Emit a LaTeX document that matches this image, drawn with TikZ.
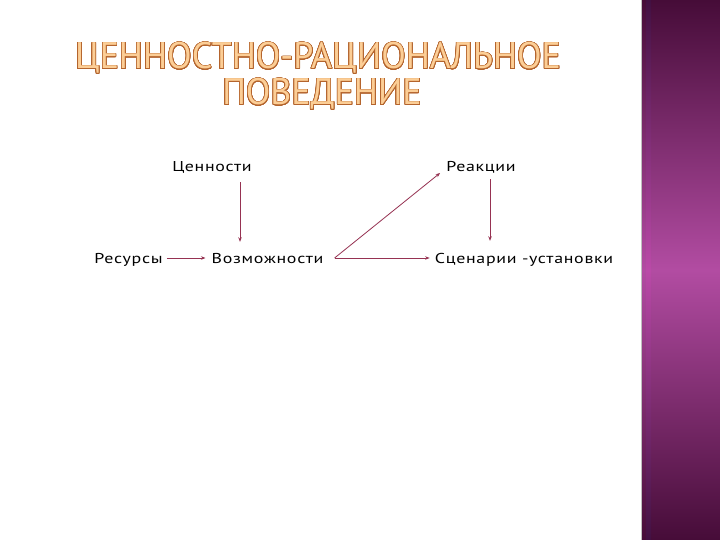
\documentclass[tikz,border=0pt]{standalone}
\usepackage{fontspec}
\setmainfont{PT Sans}
\newfontfamily\lblfont{PT Sans}[FakeStretch=1.25, LetterSpace=5]
\newfontfamily\headfont{PT Sans}[FakeStretch=0.97]
\usepackage{contour}
\contourlength{0.7pt}
\contournumber{32}
\usetikzlibrary{arrows.meta, positioning, calc}
\definecolor{arrred}{RGB}{150, 50, 82}
\definecolor{titlefill}{RGB}{252, 206, 150}
\definecolor{titleline}{RGB}{180, 100, 45}
\definecolor{sidedark}{RGB}{70, 12, 56}
\definecolor{sidemid}{RGB}{178, 76, 162}
\definecolor{stripedark}{RGB}{66, 16, 66}
\definecolor{stripemid}{RGB}{186, 74, 168}

\begin{document}
\begin{tikzpicture}[x=1pt, y=-1pt,
  lbl/.style={font=\lblfont\fontsize{14.3}{17}\selectfont, inner sep=0pt, anchor=base, text height=12pt, text depth=2pt},
  headline/.style={font=\headfont\fontsize{37}{37}\selectfont, inner sep=0pt, anchor=base},
  link/.style={draw=arrred, line width=0.8pt, -{Stealth[length=4.5pt, width=3.5pt]}}]
  \useasboundingbox (0,0) rectangle (720,540);
  \fill[white] (0,0) rectangle (720,540);
  % side band
  \shade[top color=sidedark, bottom color=sidedark, middle color=sidemid] (642,0) rectangle (720,540);
  \shade[top color=stripedark, bottom color=stripedark, middle color=stripemid] (646,0) rectangle (651,540);
  \draw[gray!50, line width=0.8pt] (641,0) -- (641,540);

  % title
  \node[headline] (title) at (318,69) {\contour{titleline}{\textcolor{titlefill}{ЦЕННОСТНО-РАЦИОНАЛЬНОЕ}}};
  \node[headline] (title2) at (322,105) {\contour{titleline}{\textcolor{titlefill}{ПОВЕДЕНИЕ}}};

  % labels
  \node[lbl] (val) at (212,172) {Ценности};
  \node[lbl] (reac) at (481,172) {Реакции};
  \node[lbl] (res) at (128.5,263) {Ресурсы};
  \node[lbl] (opp) at (267.5,263) {Возможности};
  \node[lbl] (scen) at (524,263) {Сценарии -установки};

  % links
  \draw[link] ([xshift=28pt, yshift=-8pt]val.south) -- ([xshift=28pt, yshift=9pt]val.south |- opp.north);
  \draw[link] ([xshift=4pt]res.east) -- ([xshift=-6pt]opp.west);
  \draw[link] ([xshift=11pt]opp.east) -- ([xshift=-5pt]scen.west);
  \draw[link] ([xshift=11pt]opp.east) -- ([xshift=-6pt, yshift=-6pt]reac.west);
  \draw[link] ([xshift=9pt, yshift=-5pt]reac.south) -- ([xshift=9pt, yshift=10pt]reac.south |- scen.north);
\end{tikzpicture}
\end{document}
